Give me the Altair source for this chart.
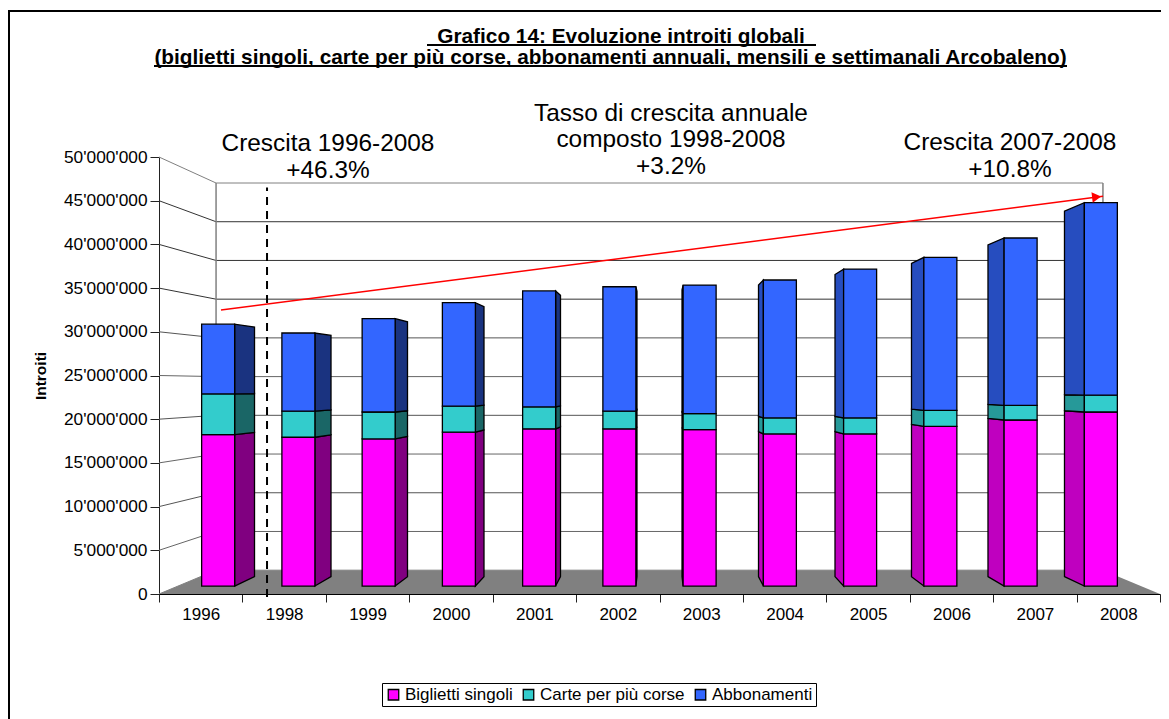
import altair as alt
import pandas as pd

# ---------- data ----------
anni = ["1996", "1998", "1999", "2000", "2001", "2002", "2003", "2004", "2005", "2006", "2007", "2008"]
biglietti = [18.0, 17.7, 17.5, 18.3, 18.7, 18.7, 18.6, 18.1, 18.1, 19.0, 19.75, 20.7]
carte = [4.85, 3.1, 3.2, 3.1, 2.6, 2.1, 1.9, 1.9, 1.9, 1.9, 1.75, 2.0]
abbonamenti = [8.3, 9.3, 11.1, 12.3, 13.8, 14.8, 15.3, 16.4, 17.7, 18.2, 19.9, 22.9]
serie = ["Biglietti singoli", "Carte per più corse", "Abbonamenti"]
colori = ["#FF00FF", "#33CCCC", "#3366FF"]
colori_destra = ["#800080", "#1A6666", "#1A3380"]
colori_sinistra = ["#BF00BF", "#269999", "#264DBF"]
tick_y = [0, 5, 10, 15, 20, 25, 30, 35, 40, 45, 50]
griglia = ["#808080", "#666666", "#555555", "#666666", "#555555", "#666666",
           "#555555", "#333333", "#333333", "#333333", "#808080"]
titolo_1 = "Grafico 14: Evoluzione introiti globali "
titolo_2 = "(biglietti singoli, carte per più corse, abbonamenti annuali, mensili e settimanali Arcobaleno)"
note = [
    ("Crescita 1996-2008", 328, 144), ("+46.3%", 328, 171),
    ("Tasso di crescita annuale", 671, 114), ("composto 1998-2008", 671, 140), ("+3.2%", 671, 167),
    ("Crescita 2007-2008", 1010, 143), ("+10.8%", 1010, 170),
]
FONT = "Liberation Sans"

# ---------- pseudo-3D projection (millions, category units) ----------
VX, VY = 6.0, 23.9
K_FRONTE, K_RETRO, K_MURO = 0.038, 0.083, 0.114
META = 0.2056
X0, Y0 = 159, 157  # pixel position of the plot origin


def px(x, k):
    return x + k * (VX - x)


def py(v, k):
    return v + k * (VY - v)


facce, lati = [], []
for i, anno in enumerate(anni):
    base = 0.0
    c = i + 0.5
    destra = c < VX
    for s, val in enumerate([biglietti[i], carte[i], abbonamenti[i]]):
        cima = base + val
        facce.append(dict(anno=anno, serie=serie[s],
                          x=px(c - META, K_FRONTE), x2=px(c + META, K_FRONTE),
                          y=py(base, K_FRONTE), y2=py(cima, K_FRONTE)))
        bordo = c + META if destra else c - META
        tinta = colori_destra[s] if destra else colori_sinistra[s]
        for k in (K_FRONTE, K_RETRO):
            lati.append(dict(id=f"{anno}-{s}", tinta=tinta, x=px(bordo, k),
                             y=py(base, k), y2=py(cima, k)))
        base = cima

righe = []
for j, v in enumerate(tick_y):
    for x, k in ((0, 0), (0, K_MURO), (12, K_MURO)):
        righe.append(dict(v=v, col=griglia[j], x=px(x, k), y=py(v, k)))
df_g = pd.DataFrame(righe)

pav = pd.DataFrame([
    dict(y=py(0, 0), x=px(0, 0), x2=px(12, 0)),
    dict(y=py(0, K_MURO), x=px(0, K_MURO), x2=px(12, K_MURO)),
])
muri = pd.DataFrame([
    dict(x=px(0, K_MURO), y=py(0, K_MURO), y2=py(50, K_MURO)),
    dict(x=px(12, K_MURO), y=py(0, K_MURO), y2=py(50, K_MURO)),
])

sx = alt.Scale(domain=[0, 12], nice=False)
sy = alt.Scale(domain=[0, 50], nice=False, zero=False)
asse_valori = alt.Axis(
    values=tick_y, grid=False, tickSize=9, labelPadding=3, labelFont=FONT, labelFontSize=17.3,
    labelColor="#000000", tickColor="#222222", domainColor="#222222", title=None,
    labelExpr="replace(format(datum.value * 1000000, ','), /,/g, \"'\")")
X = lambda f="x": alt.X(f"{f}:Q", scale=sx, axis=None)
Y = lambda f="y": alt.Y(f"{f}:Q", scale=sy, title=None, axis=asse_valori)

pavimento = alt.Chart(pav).mark_area(orient="horizontal", color="#808080").encode(
    y=Y(), x=X(), x2="x2:Q")
griglie = alt.Chart(df_g).mark_line(strokeWidth=1).encode(
    x=X(), y=Y(), detail="v:N", stroke=alt.Stroke("col:N", scale=None))
pareti = alt.Chart(muri).mark_rule(color="#808080", strokeWidth=1.5).encode(
    x=X(), y=Y(), y2="y2:Q")
lati_c = alt.Chart(pd.DataFrame(lati)).mark_area(stroke="#000000", strokeWidth=1.3).encode(
    x=X(), y=Y(), y2="y2:Q", detail="id:N", fill=alt.Fill("tinta:N", scale=None))
legenda = alt.Legend(
    title=None, orient="none", legendX=223, legendY=526, direction="horizontal",
    columns=3, labelFont=FONT, labelFontSize=17, labelColor="#000000", symbolType="square",
    symbolSize=110, symbolStrokeWidth=1.3, symbolOpacity=1,
    strokeColor="#000000", fillColor="#FFFFFF", padding=3, columnPadding=7, labelOffset=3)
facce_c = alt.Chart(pd.DataFrame(facce)).mark_rect(strokeWidth=1.3).encode(
    x=X(), x2="x2:Q", y=Y(), y2="y2:Q",
    color=alt.Color("serie:N", scale=alt.Scale(domain=serie, range=colori), legend=legenda),
    stroke=alt.Stroke("serie:N", scale=alt.Scale(domain=serie, range=["#000000"] * 3), legend=legenda),
)
tratteggio = alt.Chart(pd.DataFrame({"x": [1.295], "y": [-0.35], "y2": [46.5]})).mark_rule(
    color="#000000", strokeWidth=2, strokeDash=[8, 6]).encode(x=X(), y=Y(), y2="y2:Q")
freccia = alt.Chart(pd.DataFrame({"x": [0.743, 11.317], "y": [32.5, 45.5]})).mark_line(
    color="#FF0000", strokeWidth=1.5).encode(x=X(), y=Y())
punta = alt.Chart(pd.DataFrame({"x": [11.24], "y": [45.43]})).mark_point(
    shape="triangle-right", filled=True, color="#FF0000", opacity=1, size=110, angle=353).encode(x=X(), y=Y())


def testo(t, xp, yp, size, bold=False, angle=0):
    return alt.Chart(pd.DataFrame({"t": [t]})).mark_text(
        font=FONT, fontSize=size, fontWeight="bold" if bold else "normal", color="#000000",
        align="center", baseline="middle", angle=angle).encode(
        text="t:N", x=alt.value(xp - X0), y=alt.value(yp - Y0))


def tratto(x1, x2, y, w=2.0, col="#000000"):
    return alt.Chart(pd.DataFrame({"a": [0]})).mark_rule(color=col, strokeWidth=w).encode(
        x=alt.value(x1 - X0), x2=alt.value(x2 - X0), y=alt.value(y - Y0))


def verticale(x, y1, y2, w=2.0):
    return alt.Chart(pd.DataFrame({"a": [0]})).mark_rule(color="#000000", strokeWidth=w).encode(
        x=alt.value(x - X0), y=alt.value(y1 - Y0), y2=alt.value(y2 - Y0))


testi = [testo(t, x, y, 24.4) for t, x, y in note]
testi += [testo(titolo_1, 621, 37, 20.8, True), testo(titolo_2, 610.5, 58, 20.8, True),
          testo("Introiti", 41, 376, 15.5, True, 270),
          tratto(427, 816, 45), tratto(154, 1067, 66),
          tratto(8, 1161, 11), verticale(9, 10, 719, 2.0)]

corpo = alt.layer(pavimento, griglie, pareti, lati_c, facce_c, tratteggio, freccia, punta, *testi)

asse_x = alt.Chart(pd.DataFrame({"anno": anni})).mark_rect(opacity=0).encode(
    x=alt.X("anno:N", sort=anni, title=None, scale=alt.Scale(paddingInner=0, paddingOuter=0),
            axis=alt.Axis(tickBand="extent", labelAngle=0, tickSize=8, labelPadding=4, grid=False,
                          labelFont=FONT, labelFontSize=17, labelColor="#000000",
                          tickColor="#222222", domainColor="#000000")),
    y=alt.value(0), y2=alt.value(437),
)

chart = alt.layer(corpo, asse_x).resolve_scale(x="independent").properties(
    width=1001, height=437,
    padding={"left": 151, "top": 149, "right": 1, "bottom": 125},
    autosize=alt.AutoSizeParams(type="none"),
    background="#FFFFFF",
).configure_view(stroke=None)

chart.save("out.html", embed_options={"renderer": "svg", "actions": False})
